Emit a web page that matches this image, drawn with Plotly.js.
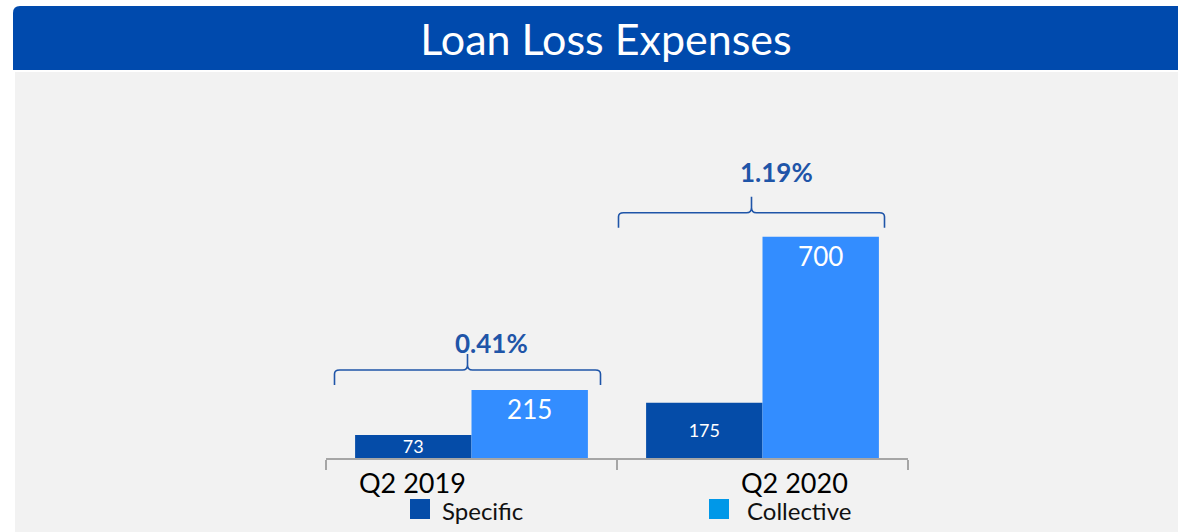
<!DOCTYPE html>
<html>
<head>
<meta charset="utf-8">
<script src="https://cdn.plot.ly/plotly-3.0.1.min.js"></script>
<style>
  html, body { margin: 0; padding: 0; background: #fff; }
  #chart { width: 1178px; height: 532px; }
</style>
</head>
<body>
<div id="chart"></div>
<script>
// chart data
var quarters = ["Q2 2019", "Q2 2020"];
var specific = [73, 175];
var collective = [215, 700];
var costOfRisk = ["0.41%", "1.19%"];
var seriesNames = ["Specific", "Collective"];

// page geometry (pixels) -> paper coords for the decorations
var W = 1178, H = 532;
var ml = 326, mr = 270, mt = 80, mb = 74;
var pw = W - ml - mr, ph = H - mt - mb;
function px(x) { return (x - ml) / pw; }
function py(y) { return (H - mb - y) / ph; }
function P(x, y) { return px(x) + "," + py(y); }

var font = "Lato, 'Open Sans', sans-serif";
var blue = "#1F55A8";

// little tweaks so the braces / labels sit like the original slide
var braceGap = [5, 9];
var braceShift = [-4, -11];
var pctGap = [47, 65];
var pctShift = [20, 14];
var labelShift = [-59, 32];

// curly brace drawn in pixels, anchored on top of the tallest bar
function brace(g, c) {
  var w = 133, h = 15, t = 16, r = 5;
  return "M" + (c - w) + "," + g +
    " L" + (c - w) + "," + (g + h - 4) +
    " Q" + (c - w) + "," + (g + h) + " " + (c - w + r) + "," + (g + h) +
    " L" + (c - r) + "," + (g + h) +
    " Q" + c + "," + (g + h) + " " + c + "," + (g + h + r) +
    " L" + c + "," + (g + h + t) +
    " M" + c + "," + (g + h + r) +
    " Q" + c + "," + (g + h) + " " + (c + r) + "," + (g + h) +
    " L" + (c + w - r) + "," + (g + h) +
    " Q" + (c + w) + "," + (g + h) + " " + (c + w) + "," + (g + h - 4) +
    " L" + (c + w) + "," + g;
}

var traceSpecific = {
  type: "bar",
  x: quarters,
  y: specific,
  name: seriesNames[0],
  marker: { color: "#054CA8" },
  text: specific.map(String),
  textposition: "inside",
  insidetextanchor: "middle",
  textangle: 0,
  constraintext: "none",
  textfont: { family: font, size: 18, color: "#fff" },
  hoverinfo: "none",
  showlegend: false
};

var traceCollective = {
  type: "bar",
  x: quarters,
  y: collective,
  name: seriesNames[1],
  marker: { color: "#338DFF" },
  text: collective.map(String),
  textposition: "inside",
  insidetextanchor: "end",
  textangle: 0,
  constraintext: "none",
  textfont: { family: font, size: 26, color: "#fff" },
  hoverinfo: "none",
  showlegend: false
};

var data = [traceSpecific, traceCollective];

var shapes = [
  // grey panel
  { type: "rect", xref: "paper", yref: "paper", layer: "below",
    x0: px(15), x1: px(1180), y0: py(534), y1: py(72),
    fillcolor: "#F2F2F2", line: { width: 0 } },
  // title bar with rounded top-left corner
  { type: "path", xref: "paper", yref: "paper", layer: "below",
    path: "M" + P(13, 70) + " L" + P(13, 13) + " Q" + P(13, 6) + " " + P(20, 6) +
          " L" + P(1180, 6) + " L" + P(1180, 70) + " Z",
    fillcolor: "#004AAD", line: { width: 0 } }
];

var annotations = [];

quarters.forEach(function (q, i) {
  var top = Math.max(specific[i], collective[i]);
  shapes.push({
    type: "path", xref: "x", yref: "y",
    xsizemode: "pixel", ysizemode: "pixel",
    xanchor: q, yanchor: top,
    path: brace(braceGap[i], braceShift[i]),
    line: { color: blue, width: 1.6 }
  });
  annotations.push({
    xref: "x", yref: "y", x: q, y: top,
    yshift: pctGap[i], xshift: pctShift[i],
    text: "<b>" + costOfRisk[i] + "</b>", showarrow: false,
    font: { family: font, size: 26, color: blue },
    xanchor: "center", yanchor: "middle"
  });
  annotations.push({
    xref: "x", yref: "paper", x: q, y: py(482),
    xshift: labelShift[i],
    text: q, showarrow: false,
    font: { family: font, size: 27, color: "#000" },
    xanchor: "center", yanchor: "middle"
  });
});

// hand-made legend so the squares match the slide
var legendX = [410, 709];
var legendColors = ["#054CA8", "#0098E8"];
seriesNames.forEach(function (n, i) {
  shapes.push({
    type: "rect", xref: "paper", yref: "paper",
    x0: px(legendX[i]), x1: px(legendX[i] + 20),
    y0: py(519), y1: py(499),
    fillcolor: legendColors[i], line: { width: 0 }
  });
  annotations.push({
    xref: "paper", yref: "paper",
    x: px(legendX[i] + 30 + (i ? 6 : 0)), y: py(510),
    text: n, showarrow: false,
    font: { family: font, size: 24, color: "#111" },
    xanchor: "left", yanchor: "middle"
  });
});

var layout = {
  width: W,
  height: H,
  margin: { l: ml, r: mr, t: mt, b: mb },
  paper_bgcolor: "#fff",
  plot_bgcolor: "rgba(0,0,0,0)",
  title: {
    text: "Loan Loss Expenses",
    font: { family: font, size: 43, color: "#fff" },
    xref: "container", yref: "container",
    x: 606 / W, y: 1 - 40 / H,
    xanchor: "center", yanchor: "middle"
  },
  barmode: "group",
  bargap: 0.2,
  bargroupgap: 0,
  xaxis: {
    type: "category",
    range: [-0.5, 1.5],
    showline: true,
    linecolor: "#A6A6A6",
    linewidth: 2,
    ticks: "outside",
    tickson: "boundaries",
    ticklen: 10,
    tickwidth: 2,
    tickcolor: "#A6A6A6",
    showticklabels: false,
    showgrid: false,
    zeroline: false,
    fixedrange: true
  },
  yaxis: {
    range: [0, 1196],
    visible: false,
    fixedrange: true
  },
  showlegend: false,
  shapes: shapes,
  annotations: annotations
};

Plotly.newPlot("chart", data, layout, { displayModeBar: false, staticPlot: true });
</script>
</body>
</html>
